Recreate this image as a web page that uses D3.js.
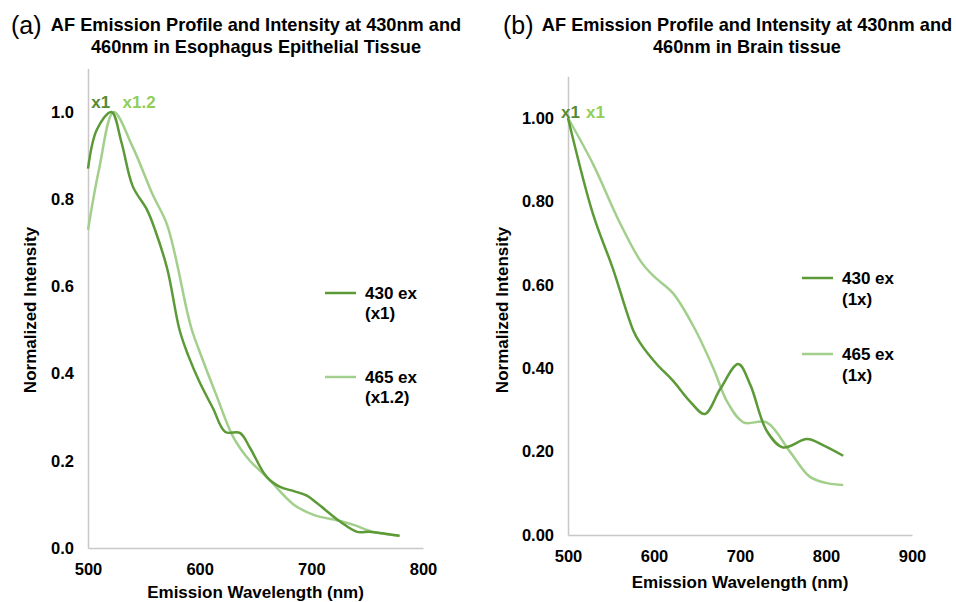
<!DOCTYPE html>
<html>
<head>
<meta charset="utf-8">
<script src="https://cdn.jsdelivr.net/npm/d3@7"></script>
<style>
  body { margin: 0; background: #fff; }
  svg { font-family: "Liberation Sans", Arial, sans-serif; }
  .tick text { font-weight: bold; font-size: 16.5px; fill: #000; }
  .domain { stroke: #c8c8c8; stroke-width: 1.5; }
</style>
</head>
<body>
<div id="chart"></div>
<script>
// panel (a) - esophagus epithelial tissue
const aWl430 = [500, 508, 521, 530, 540, 553, 560, 571, 582, 590, 600, 612, 623, 636, 645, 660, 672, 685, 696, 705, 726, 741, 752, 765, 779]
const aVal430 = [0.87, 0.96, 1.0, 0.93, 0.83, 0.775, 0.73, 0.64, 0.5, 0.44, 0.38, 0.32, 0.266, 0.264, 0.23, 0.163, 0.14, 0.13, 0.12, 0.103, 0.06, 0.037, 0.037, 0.033, 0.028]
const aWl465 = [500, 510, 523, 540, 558, 571, 589, 593, 600, 615, 630, 645, 660, 684, 702, 726, 738, 755, 779]
const aVal465 = [0.73, 0.87, 1.0, 0.92, 0.81, 0.74, 0.54, 0.5, 0.45, 0.35, 0.255, 0.2, 0.163, 0.10, 0.076, 0.062, 0.053, 0.037, 0.028]

// panel (b) - brain tissue
const bWl430 = [500, 529, 552, 576, 584, 603, 622, 642, 659, 677, 698, 712, 731, 750, 778, 797, 820]
const bVal430 = [1.0, 0.77, 0.64, 0.49, 0.46, 0.41, 0.37, 0.32, 0.29, 0.35, 0.41, 0.36, 0.25, 0.21, 0.23, 0.215, 0.19]
const bWl465 = [500, 529, 560, 585, 600, 622, 646, 669, 685, 704, 731, 758, 781, 800, 820]
const bVal465 = [1.0, 0.89, 0.75, 0.655, 0.62, 0.58, 0.50, 0.40, 0.32, 0.27, 0.27, 0.20, 0.14, 0.125, 0.12]

const aXTicks = [500, 600, 700, 800]
const bXTicks = [500, 600, 700, 800, 900]
const yTicks = [0, 0.2, 0.4, 0.6, 0.8, 1.0]

const dark = "#5b9a37"
const light = "#a3cf8c"
const darkText = "#558a34"
const lightText = "#8fcf57"

const W = 956, H = 602

const svg = d3.select("#chart").append("svg")
  .attr("width", W)
  .attr("height", H)

const zip = (xs, ys) => xs.map((x, i) => [x, ys[i]])

const drawPanel = (p) => {
  const x = d3.scaleLinear().domain(p.xDomain).range(p.xRange)
  const y = d3.scaleLinear().domain([0, 1.1]).range(p.yRange)

  const xAxis = d3.axisBottom(x).tickValues(p.xTicks).tickSize(0).tickSizeOuter(0).tickPadding(p.xPad)
  const yAxis = d3.axisLeft(y).tickValues(yTicks).tickSize(0).tickSizeOuter(0).tickPadding(14)
    .tickFormat(d3.format(p.yFmt))

  svg.append("g")
    .attr("transform", "translate(0," + p.yRange[0] + ")")
    .call(xAxis)
  svg.append("g")
    .attr("transform", "translate(" + p.xRange[0] + ",0)")
    .call(yAxis)

  const line = d3.line()
    .x(d => x(d[0]))
    .y(d => y(d[1]))
    .curve(d3.curveCatmullRom.alpha(0.5))

  svg.append("path")
    .datum(zip(p.wl465, p.val465))
    .attr("d", line)
    .attr("fill", "none")
    .attr("stroke", light)
    .attr("stroke-width", 2.5)
  svg.append("path")
    .datum(zip(p.wl430, p.val430))
    .attr("d", line)
    .attr("fill", "none")
    .attr("stroke", dark)
    .attr("stroke-width", 2.5)

  // axis titles
  svg.append("text")
    .attr("x", (p.xRange[0] + p.xRange[1]) / 2)
    .attr("y", p.xTitleY)
    .style("text-anchor", "middle")
    .style("font-weight", "bold")
    .style("font-size", "17px")
    .text("Emission Wavelength (nm)")

  svg.append("text")
    .attr("transform", "rotate(-90)")
    .attr("x", -310)
    .attr("y", p.yTitleX)
    .style("text-anchor", "middle")
    .style("font-weight", "bold")
    .style("font-size", "17px")
    .text("Normalized Intensity")

  // panel title
  svg.append("text")
    .attr("x", p.tagX)
    .attr("y", 34)
    .style("font-size", "25px")
    .text(p.tag)
  svg.append("text")
    .attr("x", p.titleX)
    .attr("y", 31)
    .style("text-anchor", "middle")
    .style("font-weight", "bold")
    .style("font-size", "18.2px")
    .text(p.title1)
  svg.append("text")
    .attr("x", p.titleX)
    .attr("y", 53)
    .style("text-anchor", "middle")
    .style("font-weight", "bold")
    .style("font-size", "18.2px")
    .text(p.title2)

  // legend
  p.legend.forEach((lg, i) => {
    svg.append("line")
      .attr("x1", lg.x).attr("x2", lg.x + 31)
      .attr("y1", lg.y).attr("y2", lg.y)
      .attr("stroke", i === 0 ? dark : light)
      .attr("stroke-width", 2.5)
    lg.lines.forEach((t, j) => {
      svg.append("text")
        .attr("x", lg.x + 40)
        .attr("y", lg.y + 6 + j * p.legendGap)
        .style("font-weight", "bold")
        .style("font-size", "17px")
        .text(t)
    })
  })

  // scale notes
  p.notes.forEach((n, i) => {
    svg.append("text")
      .attr("x", x(n.wl))
      .attr("y", y(1.0) + n.dy)
      .style("font-weight", "bold")
      .style("font-size", "17px")
      .style("fill", i === 0 ? darkText : lightText)
      .text(n.text)
  })
}

drawPanel({
  xDomain: [500, 800], xRange: [88, 423], yRange: [548, 68.4],
  xTicks: aXTicks, xPad: 15, yFmt: ".1f",
  wl430: aWl430, val430: aVal430, wl465: aWl465, val465: aVal465,
  xTitleY: 598, yTitleX: 36,
  tag: "(a)", tagX: 11, titleX: 256,
  title1: "AF Emission Profile and Intensity at 430nm and",
  title2: "460nm in Esophagus Epithelial Tissue",
  legend: [{ x: 325, y: 293, lines: ["430 ex", "(x1)"] }, { x: 325, y: 377, lines: ["465 ex", "(x1.2)"] }],
  legendGap: 20,
  notes: [{ wl: 503, dy: -4, text: "x1" }, { wl: 531, dy: -4, text: "x1.2" }]
})

drawPanel({
  xDomain: [500, 900], xRange: [568, 912], yRange: [535, 76.3],
  xTicks: bXTicks, xPad: 15, yFmt: ".2f",
  wl430: bWl430, val430: bVal430, wl465: bWl465, val465: bVal465,
  xTitleY: 588, yTitleX: 508,
  tag: "(b)", tagX: 503, titleX: 747,
  title1: "AF Emission Profile and Intensity at 430nm and",
  title2: "460nm in Brain tissue",
  legend: [{ x: 802, y: 278, lines: ["430 ex", "(1x)"] }, { x: 802, y: 354, lines: ["465 ex", "(1x)"] }],
  legendGap: 21,
  notes: [{ wl: 492, dy: 0, text: "x1" }, { wl: 521, dy: 0, text: "x1" }]
})
</script>
</body>
</html>
